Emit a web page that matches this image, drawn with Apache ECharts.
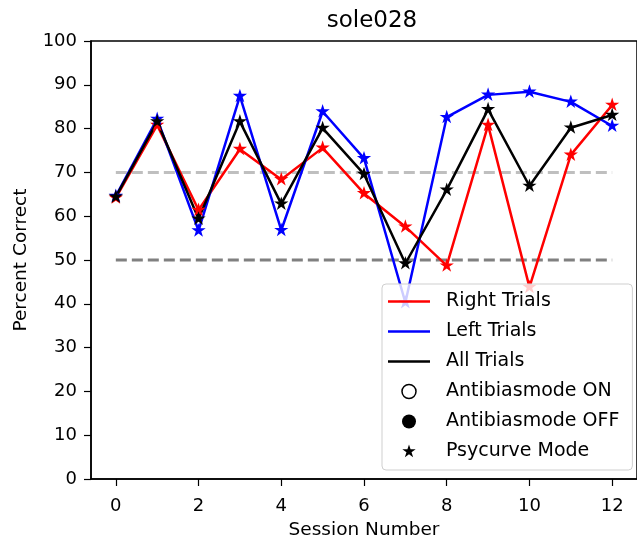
<!DOCTYPE html>
<html>
<head>
<meta charset="utf-8">
<script src="https://cdn.jsdelivr.net/npm/echarts@6/dist/echarts.min.js"></script>
<style>
  html, body { margin: 0; padding: 0; background: #fff; }
  #chart { width: 637px; height: 546px; }
</style>
</head>
<body>
<div id="chart"></div>
<script>
// 数据
var sessions = [0, 1, 2, 3, 4, 5, 6, 7, 8, 9, 10, 11, 12];
var rightTrials = [64.2, 80.8, 61.4, 75.3, 68.4, 75.6, 65.2, 57.6, 48.7, 80.8, 43.8, 74.0, 85.4];
var leftTrials = [64.6, 82.2, 56.7, 87.4, 56.8, 83.9, 73.2, 40.3, 82.6, 87.7, 88.4, 86.1, 80.6];
var allTrials = [64.4, 81.6, 59.4, 81.6, 62.8, 80.1, 69.6, 49.2, 66.0, 84.4, 66.9, 80.2, 83.1];
var xTicks = [0, 2, 4, 6, 8, 10, 12];
var refHigh = 70;
var refLow = 50;

var font = 'DejaVu Sans';
var starPath = 'path://M0,0 M50,0 L61.23,34.55 L97.55,34.55 L68.17,55.9 L79.39,90.45 L50,69.1 L20.61,90.45 L31.83,55.9 L2.45,34.55 L38.77,34.55 Z M100,100';
var linePath = 'path://M0,0 M0,5.7 L42,5.7 L42,8.3 L0,8.3 Z M42,14';

function pairs(ys) {
    return sessions.map(function (x, i) { return [x, ys[i]]; });
}

function trialSeries(name, color, ys) {
    return {
        name: name,
        type: 'line',
        data: pairs(ys),
        color: color,
        symbol: starPath,
        symbolSize: 15,
        lineStyle: { color: color, width: 2.5 },
        itemStyle: { color: color },
        emphasis: { disabled: true },
        z: 3
    };
}

function refSeries(y, color) {
    return {
        type: 'line',
        data: [[sessions[0], y], [sessions[sessions.length - 1], y]],
        symbol: 'none',
        silent: true,
        lineStyle: { color: color, width: 3, type: [11, 5] },
        z: 1
    };
}

// 只用于图例的空系列
function markerSeries(name, symbol, fill, border) {
    return {
        name: name,
        type: 'scatter',
        data: [],
        symbol: symbol,
        color: fill,
        itemStyle: { color: fill, borderColor: border, borderWidth: border ? 1.5 : 0, opacity: 1 }
    };
}

var myChart = echarts.init(document.getElementById('chart'));

var option = {
    animation: false,
    backgroundColor: '#fff',
    title: {
        text: 'sole028',
        left: 367,
        top: 5,
        textAlign: 'center',
        textStyle: { fontFamily: font, fontSize: 23, fontWeight: 'normal', color: '#000' }
    },
    grid: {
        left: 91, top: 41, right: -7, bottom: 67,
        show: true, borderColor: '#000', borderWidth: 1.5
    },
    legend: {
        orient: 'vertical',
        left: 382,
        top: 284,
        itemWidth: 42,
        itemHeight: 14,
        itemGap: 11,
        padding: [8, 13, 9, 6],
        backgroundColor: 'rgba(255,255,255,0.8)',
        borderColor: '#cfcfcf',
        borderWidth: 1,
        borderRadius: 4,
        selectedMode: false,
        textStyle: { fontFamily: font, fontSize: 19, color: '#000', padding: [0, 0, 0, 11] },
        data: [
            { name: 'Right Trials', icon: linePath, itemStyle: { color: '#ff0000', borderWidth: 0 } },
            { name: 'Left Trials', icon: linePath, itemStyle: { color: '#0000ff', borderWidth: 0 } },
            { name: 'All Trials', icon: linePath, itemStyle: { color: '#000000', borderWidth: 0 } },
            { name: 'Antibiasmode ON', icon: 'circle', itemStyle: { color: '#ffffff', borderColor: '#000000', borderWidth: 1.5, opacity: 1 } },
            { name: 'Antibiasmode OFF', icon: 'circle', itemStyle: { color: '#000000', borderWidth: 0, opacity: 1 } },
            { name: 'Psycurve Mode', icon: starPath, itemStyle: { color: '#000000', borderWidth: 0, opacity: 1 } }
        ]
    },
    xAxis: {
        type: 'value',
        min: -0.6,
        max: 12.6,
        name: 'Session Number',
        nameLocation: 'middle',
        nameGap: 42,
        nameTextStyle: { fontFamily: font, fontSize: 18.5, color: '#000' },
        axisLine: { onZero: false, lineStyle: { color: '#000', width: 1.5 } },
        axisTick: { show: true, length: 7, customValues: xTicks, lineStyle: { color: '#000', width: 1.2 } },
        axisLabel: { customValues: xTicks, margin: 18, fontFamily: font, fontSize: 18, color: '#000' },
        splitLine: { show: false }
    },
    yAxis: {
        type: 'value',
        min: 0,
        max: 100,
        interval: 10,
        name: 'Percent Correct',
        nameLocation: 'middle',
        nameGap: 60,
        nameTextStyle: { fontFamily: font, fontSize: 18.5, color: '#000' },
        axisLine: { show: true, onZero: false, lineStyle: { color: '#000', width: 1.5 } },
        axisTick: { show: true, length: 7, lineStyle: { color: '#000', width: 1.2 } },
        axisLabel: { margin: 14, fontFamily: font, fontSize: 18, color: '#000' },
        splitLine: { show: false }
    },
    series: [
        refSeries(refHigh, '#bfbfbf'),
        refSeries(refLow, '#808080'),
        trialSeries('Right Trials', '#ff0000', rightTrials),
        trialSeries('Left Trials', '#0000ff', leftTrials),
        trialSeries('All Trials', '#000000', allTrials),
        markerSeries('Antibiasmode ON', 'circle', '#ffffff', '#000000'),
        markerSeries('Antibiasmode OFF', 'circle', '#000000', null),
        markerSeries('Psycurve Mode', starPath, '#000000', null)
    ]
};

myChart.setOption(option);
</script>
</body>
</html>
